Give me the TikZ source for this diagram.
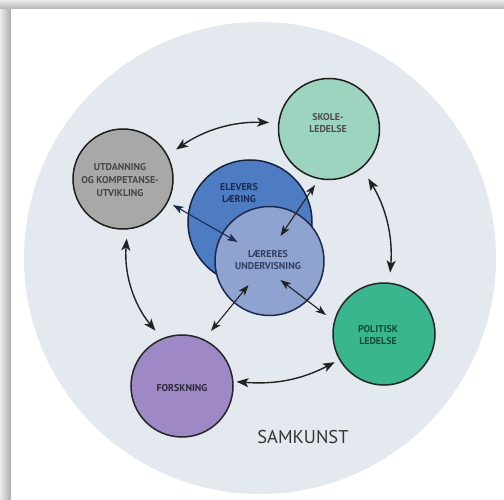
\documentclass[tikz,border=0pt]{standalone}
\usepackage{fontspec}
\setmainfont{PT Sans}
\usetikzlibrary{arrows.meta,calc}
\definecolor{bgc}{HTML}{E4E8EF}
\definecolor{skolec}{HTML}{9DD4C0}
\definecolor{utdc}{HTML}{A8A8A8}
\definecolor{elevc}{HTML}{4D7CC2}
\definecolor{larc}{HTML}{8EA3CF}
\definecolor{polc}{HTML}{3AB68E}
\definecolor{forsc}{HTML}{9E88C6}
\definecolor{rimc}{HTML}{1E1E1E}
\definecolor{navyc}{HTML}{1C2A50}
\definecolor{arrc}{HTML}{222222}
\begin{document}
\begin{tikzpicture}[x=1pt,y=-1pt,
  disc/.style={circle,draw=rimc,line width=1.5pt,inner sep=0pt},
  lbl/.style={font=\bfseries\fontsize{9.9}{12.8}\selectfont,align=center,inner sep=0pt},
  ring/.style={draw=arrc,line width=1.4pt,{Stealth[length=12pt,width=9pt,inset=3pt]}-{Stealth[length=12pt,width=9pt,inset=3pt]}},
  inner/.style={draw=arrc,line width=1.1pt,{Stealth[length=10.5pt,width=7.5pt,inset=2.7pt]}-{Stealth[length=10.5pt,width=7.5pt,inset=2.7pt]}}
]
\useasboundingbox (0,0) rectangle (504,500);
% frame with shadow
\fill[white] (0,0) rectangle (504,500);
\shade[left color=gray!15,right color=gray!65] (0,0) rectangle (11,500);
\shade[top color=gray!15,bottom color=gray!60] (0,0) rectangle (504,9);
\fill[white] (11,9) rectangle (504,500);
% big background circle
\node[circle,fill=bgc,minimum size=472pt,inner sep=0pt] (bg) at (260,258) {};
% circles
\node[disc,fill=elevc,draw=navyc!80!black,minimum size=124pt] (elev) at (250,222) {};
\node[disc,fill=larc,draw=navyc,minimum size=109pt] (lar) at (269.5,261) {};
\node[disc,fill=skolec,minimum size=101pt] (skole) at (329,129) {};
\node[disc,fill=utdc,minimum size=100pt] (utd) at (123,179) {};
\node[disc,fill=polc,draw=black!85,minimum size=102pt] (pol) at (384,334) {};
\node[disc,fill=forsc,draw=black!85,minimum size=102pt] (fors) at (182,386) {};
% labels
\node[lbl,text=black!70] (tskole) at (328,123) {SKOLE-\\LEDELSE};
\node[lbl,text=black!72] (tutd) at (120,180) {UTDANNING\\OG KOMPETANSE-\\UTVIKLING};
\node[lbl,text=navyc] (telev) at (239,193) {ELEVERS\\LÆRING};
\node[lbl,text=navyc!90] (tlar) at (268,260) {LÆRERES\\UNDERVISNING};
\node[lbl,text=polc!40!black] (tpol) at (378,335) {POLITISK\\LEDELSE};
\node[lbl,text=forsc!30!black] (tfors) at (182,388) {FORSKNING};
\node[font=\fontsize{18.5}{20}\selectfont,text=black!80,inner sep=0pt] (tsam) at (303,437) {SAMKUNST};
% ring arrows
\draw[ring,shorten <=10pt,shorten >=9pt] (utd.28) to[bend left=18] (skole.173);
\draw[ring,shorten <=12pt,shorten >=10pt] (skole.-50) to[bend left=18] (pol.84);
\draw[ring,shorten <=5pt,shorten >=3pt] (pol.-150) to[bend left=16] (fors.5);
\draw[ring,shorten <=10pt,shorten >=9pt] (fors.113) to[bend left=22] (utd.-85);
% inner arrows
\draw[inner,draw=navyc] ($(utd)+(50,26)$) -- ($(lar)+(-32,-19)$);
\draw[inner] ($(skole)+(-14,56)$) -- ($(lar)+(11,-25)$);
\draw[inner] ($(lar)+(11,19)$) -- ($(pol)+(-58,-19)$);
\draw[inner] ($(lar)+(-21,24)$) -- ($(fors)+(29,-55)$);
\end{tikzpicture}
\end{document}
